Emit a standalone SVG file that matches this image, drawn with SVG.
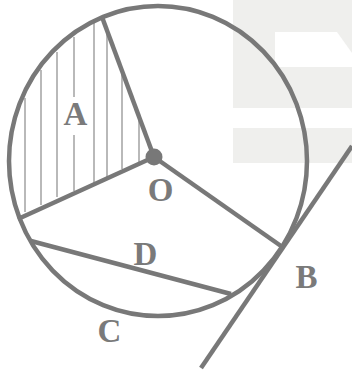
<svg xmlns="http://www.w3.org/2000/svg" width="352" height="373" viewBox="0 0 352 373">
<style>
.ln{stroke:#787878;stroke-width:4.5;fill:none;stroke-linecap:butt}
.ht{stroke:#8a8a8a;stroke-width:1.2}
.lb{font-family:"Liberation Serif","Times New Roman",serif;font-weight:bold;font-size:33px;fill:#7a7a7a;text-anchor:middle}
.wm{fill:#efefed}
</style>
<rect width="352" height="373" fill="#ffffff"/>
<g id="watermark">
<rect class="wm" x="233" y="0" width="119" height="108"/>
<polygon fill="#ffffff" points="275,32 337,32 352,53 352,67 275,67"/>
<rect class="wm" x="233" y="128" width="119" height="35"/>
</g>
<g id="hatching">
<line class="ht" x1="25" y1="98" x2="25" y2="212"/>
<line class="ht" x1="41" y1="70" x2="41" y2="205"/>
<line class="ht" x1="57" y1="52" x2="57" y2="197"/>
<line class="ht" x1="74" y1="37" x2="74" y2="97"/>
<line class="ht" x1="74" y1="135" x2="74" y2="191"/>
<line class="ht" x1="94" y1="19" x2="94" y2="183"/>
<line class="ht" x1="107" y1="33" x2="107" y2="177"/>
<line class="ht" x1="122" y1="68" x2="122" y2="169"/>
<line class="ht" x1="139" y1="118" x2="139" y2="162"/>
</g>
<g id="circle">
<ellipse class="ln" cx="158" cy="161" rx="149" ry="155" stroke-width="4"/>
</g>
<g id="connectors">
<line class="ln" x1="154" y1="157" x2="102" y2="17"/>
<line class="ln" x1="154" y1="157" x2="18" y2="219"/>
<line class="ln" x1="154" y1="157" x2="281" y2="246"/>
<line class="ln" x1="31" y1="241" x2="231" y2="294"/>
<line class="ln" x1="352" y1="146" x2="201" y2="368"/>
</g>
<g id="node-O">
<circle cx="154" cy="157" r="8.5" fill="#787878"/>
<text class="lb" x="160.5" y="201">O</text>
</g>
<g id="node-A"><text class="lb" x="75.5" y="125">A</text></g>
<g id="node-D"><text class="lb" x="145.5" y="265">D</text></g>
<g id="node-B"><text class="lb" x="306.5" y="288">B</text></g>
<g id="node-C"><text class="lb" x="109.5" y="342">C</text></g>
</svg>
